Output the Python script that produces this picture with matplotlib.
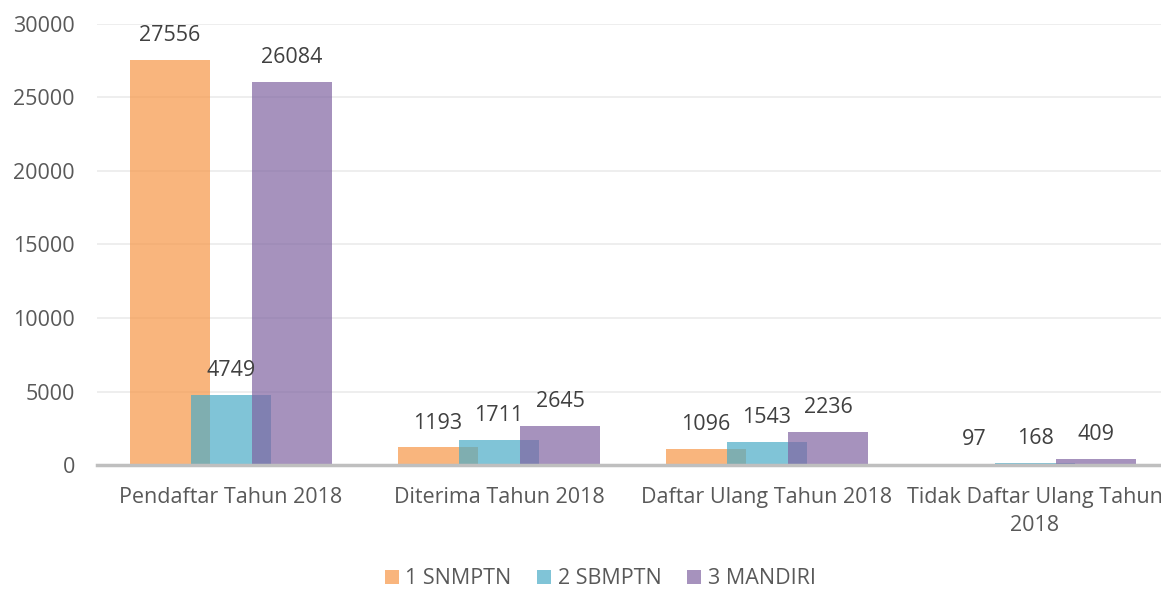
import matplotlib
matplotlib.use("Agg")
import matplotlib.pyplot as plt
import numpy as np

categories = ["Pendaftar Tahun 2018", "Diterima Tahun 2018", "Daftar Ulang Tahun 2018",
              "Tidak Daftar Ulang Tahun\n2018"]
series_names = ["1 SNMPTN", "2 SBMPTN", "3 MANDIRI"]
snmptn = [27556, 1193, 1096, 97]
sbmptn = [4749, 1711, 1543, 168]
mandiri = [26084, 2645, 2236, 409]
yticks = [0, 5000, 10000, 15000, 20000, 25000, 30000]

colors = ["#F79646", "#4BACC6", "#8064A2"]
plt.rcParams['font.family'] = ['Open Sans', 'DejaVu Sans']
FS = 15.5

fig = plt.figure(figsize=(11.61, 5.89), dpi=100)
W, H = 1161, 589
x0, x1 = 97, 1169
y0, y1 = 465, 24
ax = fig.add_axes([x0 / W, 1 - y0 / H, (x1 - x0) / W, (y0 - y1) / H])

x = np.arange(len(categories))
width = 0.302
offset = 0.2276
for i, (vals, name) in enumerate(zip([snmptn, sbmptn, mandiri], series_names)):
    pos = x + (i - 1) * offset
    ax.bar(pos, vals, width=width, color=colors[i], alpha=0.7, label=name, zorder=2 + i,
           linewidth=0)
    for p, v in zip(pos, vals):
        ax.annotate(str(v), (p, v), xytext=(0, 10), textcoords="offset points",
                    ha="center", va="bottom", fontsize=FS, color="#404040", zorder=20)

ax.set_xlim(-0.5, len(categories) - 0.5)
ax.set_ylim(0, 30000)
ax.set_yticks(yticks)
ax.set_yticklabels([str(t) for t in yticks])
ax.set_xticks(x)
ax.set_xticklabels(categories, linespacing=1.45)
ax.grid(axis="y", color="#EBEBEB", linewidth=1.2, zorder=0)
ax.set_axisbelow(True)
for s in ["top", "right", "left"]:
    ax.spines[s].set_visible(False)
ax.spines["bottom"].set_color("#BFBFBF")
ax.spines["bottom"].set_linewidth(2.5)
ax.spines["bottom"].set_zorder(10)
ax.tick_params(axis="y", length=0, pad=16, labelsize=FS, labelcolor="#595959")
ax.tick_params(axis="x", length=0, pad=16, labelsize=FS, labelcolor="#595959")

fig.legend(loc="center", bbox_to_anchor=(600 / W, 1 - 579 / H), ncol=3, frameon=False,
           fontsize=FS, labelcolor="#595959", handlelength=0.65, handleheight=0.65,
           handletextpad=0.3, columnspacing=1.2)

fig.savefig("out.png", dpi=100)
